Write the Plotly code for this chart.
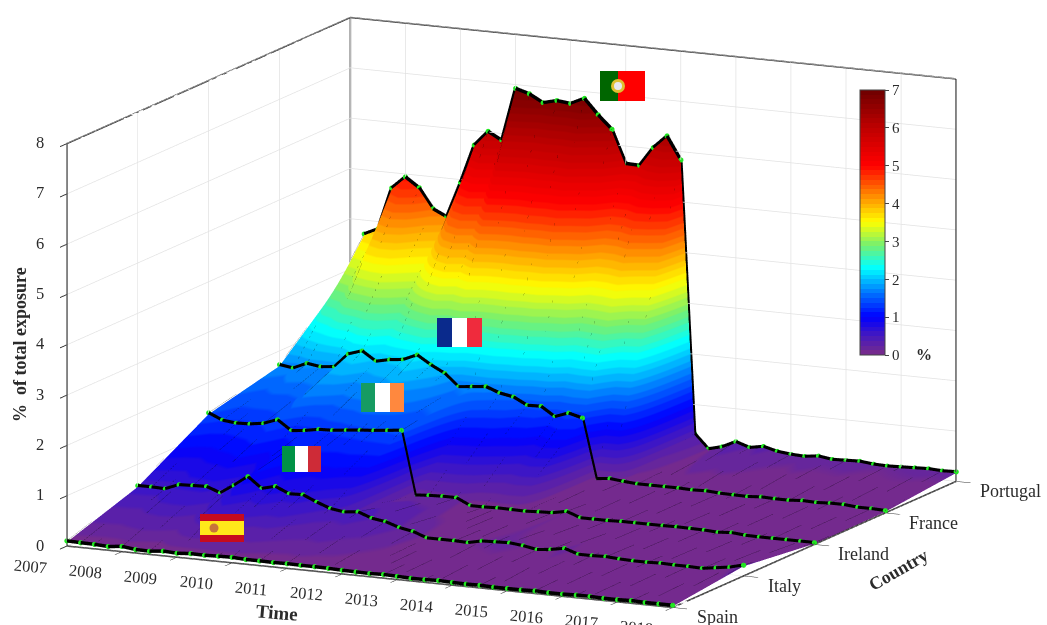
import plotly.graph_objects as go

years = list(range(2007, 2019))
quarters = [2007 + i / 4 for i in range(45)]
countries = ["Spain", "Italy", "Ireland", "France", "Portugal"]
z_ticks = list(range(0, 9))

spain = [.08,.07,.065,.05,.08,.045,.04,.07,.055,.075,.07,.08,.085,.07,.07,.065,.07,.065,.065,.06,.05,.045,.04,.05,.04,.03,.03,.04,.03,.025,.03,.02,.02,.02,.03,.02,.02,.03,.03,.02,.02,.03,.02,.02,.02]
italy = [.55,.55,.54,.65,.66,.67,.57,.75,.95,.74,.81,.69,.70,.58,.48,.44,.47,.37,.33,.24,.19,.09,.09,.09,.08,.14,.15,.16,.13,.08,.11,.16,.07,.07,.08,.06,.05,.05,.06,.05,.05,.04,.08,.12,.19]
ireland = [1.37,1.25,1.22,1.23,1.27,1.37,1.18,1.21,1.26,1.27,1.30,1.33,1.35,1.38,1.41,.15,.17,.18,.18,.05,.05,.06,.055,.05,.065,.075,.13,.03,.03,.03,.04,.04,.04,.04,.045,.04,.035,.02,.04,.015,.01,.01,.01,.01,.01]
france = [1.70,1.66,1.78,1.74,1.77,2.05,2.14,1.96,2.02,2.05,2.17,2.00,1.86,1.62,1.65,1.68,1.58,1.53,1.39,1.40,1.22,1.32,1.25,.07,.10,.07,.05,.05,.05,.05,.04,.05,.03,.025,.02,.04,.03,.03,.05,.04,.055,.055,.03,.03,.02]
portugal = [3.00,3.70,3.83,4.67,4.92,4.73,4.34,4.21,4.92,5.69,5.99,5.84,6.90,6.82,6.67,6.74,6.71,6.84,6.54,6.28,5.63,5.62,6.00,6.26,5.81,.40,.12,.19,.32,.23,.28,.21,.18,.165,.20,.16,.17,.18,.15,.14,.15,.16,.17,.155,.165]
series = [spain, italy, ireland, france, portugal]

W, H = 1047, 625
SERIF = "Liberation Serif"
TXT = "#2b2b2b"
LIFT = 0.025  # keeps lines drawn on the surface from z-fighting with it


def px(x):
    return x / W


def py(y):
    return 1 - y / H


anchors = [(0, (122, 45, 135)), (.5, (70, 25, 190)), (1, (0, 0, 255)), (1.6, (0, 110, 255)),
           (2.3, (0, 255, 255)), (2.9, (120, 240, 110)), (3.5, (255, 255, 0)), (4.2, (255, 140, 0)),
           (5, (255, 0, 0)), (6, (190, 0, 0)), (7, (110, 0, 0))]


def col(v):
    for (a, ca), (b, cb) in zip(anchors, anchors[1:]):
        if a <= v <= b:
            t = (v - a) / (b - a)
            return "rgb(%d,%d,%d)" % tuple(round(p + t * (q - p)) for p, q in zip(ca, cb))
    return "rgb(110,0,0)"


bands = 56
cscale = []
for i in range(bands):
    c = col(7 * (i + .5) / bands)
    cscale += [[i / bands, c], [(i + 1) / bands, c]]

yi = list(range(len(countries)))
fig = go.Figure()
fig.add_trace(go.Surface(
    x=quarters, y=yi, z=series, surfacecolor=series, cmin=0, cmax=7, colorscale=cscale,
    lighting=dict(ambient=1, diffuse=0, specular=0, fresnel=0, roughness=1), hoverinfo="skip",
    colorbar=dict(x=860 / W, xanchor="left", xpad=0, y=py(355), yanchor="bottom", ypad=0,
                  len=265, lenmode="pixels", thickness=25, thicknessmode="pixels",
                  tickvals=list(range(8)), ticks="outside", ticklen=4, tickcolor="#444",
                  tickfont=dict(family=SERIF, size=15, color=TXT), outlinecolor="#444", outlinewidth=1),
))

# dotted mesh across countries
mx, my, mz = [], [], []
for j, q in enumerate(quarters):
    mx += [q] * 5 + [None]
    my += yi + [None]
    mz += [s[j] + LIFT for s in series] + [None]
fig.add_trace(go.Scatter3d(x=mx, y=my, z=mz, mode="lines", hoverinfo="skip", showlegend=False,
                           line=dict(color="rgba(0,0,0,0.35)", width=1, dash="dot")))

# country lines
for i, s in enumerate(series):
    first = 1 if countries[i] == "Portugal" else 0
    fig.add_trace(go.Scatter3d(x=quarters[first:], y=[i] * (len(quarters) - first),
                               z=[v + LIFT for v in s[first:]],
                               mode="lines+markers", showlegend=False, name=countries[i], hoverinfo="skip",
                               line=dict(color="black", width=7), marker=dict(color="#22e822", size=3)))

# box edges
x0, x1, y0, y1, z0, z1 = years[0], years[-1], yi[0], yi[-1], z_ticks[0], z_ticks[-1]
edges = [((x0, y0, z0), (x1, y0, z0)), ((x1, y0, z0), (x1, y1, z0)), ((x0, y0, z0), (x0, y0, z1)),
         ((x0, y0, z1), (x0, y1, z1)), ((x0, y1, z1), (x1, y1, z1)), ((x0, y1, z0), (x0, y1, z1)),
         ((x1, y1, z0), (x1, y1, z1))]
ex, ey, ez = [], [], []
for a, b in edges:
    ex += [a[0], b[0], None]
    ey += [a[1], b[1], None]
    ez += [a[2], b[2], None]
fig.add_trace(go.Scatter3d(x=ex, y=ey, z=ez, mode="lines", hoverinfo="skip", showlegend=False,
                           line=dict(color="#333333", width=3)))

ann3 = []
for yr in years:
    ann3.append(dict(x=yr, y=y0, z=z0, text=str(yr), showarrow=False, xshift=-36, yshift=-20, textangle=5,
                     font=dict(family=SERIF, size=16.5, color=TXT)))
for i, c in enumerate(countries):
    ann3.append(dict(x=x1, y=i, z=z0, text=c, showarrow=False, xanchor="left", xshift=22, yshift=-10,
                     font=dict(family=SERIF, size=18, color=TXT)))
for t in z_ticks:
    ann3.append(dict(x=x0, y=y0, z=t, text=str(t), showarrow=False, xshift=-27, yshift=1,
                     font=dict(family=SERIF, size=16.5, color=TXT)))

ax_common = dict(showbackground=False, gridcolor="#e2e2e2", gridwidth=1.5,
                 showticklabels=False, title=dict(text=""), zeroline=False, showline=False, showspikes=False,
                 ticks="outside", ticklen=16, tickcolor="#333", tickwidth=2)

shapes = []


def rect(x0_, x1_, y0_, y1_, c):
    shapes.append(dict(type="rect", xref="paper", yref="paper", x0=px(x0_), x1=px(x1_), y0=py(y1_), y1=py(y0_),
                       fillcolor=c, line=dict(width=0), layer="above"))


def circ(cx, cy, r, c):
    shapes.append(dict(type="circle", xref="paper", yref="paper", x0=px(cx - r), x1=px(cx + r), y0=py(cy + r),
                       y1=py(cy - r), fillcolor=c, line=dict(width=0), layer="above"))


# Spain
rect(200, 244, 514, 542, "#c60b1e")
rect(200, 244, 521, 535, "#ffe81a")
circ(214, 528, 4.5, "#c8753a")
# Italy
rect(282, 295, 446, 472, "#009246")
rect(295, 308, 446, 472, "#ffffff")
rect(308, 321, 446, 472, "#ce2b37")
# Ireland
rect(361, 375, 383, 412, "#169b62")
rect(375, 390, 383, 412, "#ffffff")
rect(390, 404, 383, 412, "#ff883e")
# France
rect(437, 452, 318, 347, "#0a2a8c")
rect(452, 467, 318, 347, "#ffffff")
rect(467, 482, 318, 347, "#ef2b3d")
# Portugal
rect(600, 618, 71, 101, "#006600")
rect(618, 645, 71, 101, "#ff0000")
circ(618, 86, 7, "#e0c030")
circ(618, 86, 4, "#e8e8f0")


def label(xp, yp, text, size, angle=0):
    return dict(x=px(xp), y=py(yp), xref="paper", yref="paper", xanchor="center", yanchor="middle", text=text,
                textangle=angle, showarrow=False, font=dict(family=SERIF, size=size, color=TXT))


fig.update_layout(
    width=W, height=H, margin=dict(l=0, r=0, t=0, b=0), paper_bgcolor="white", showlegend=False,
    shapes=shapes,
    scene=dict(
        domain=dict(x=[0, 1023 / W], y=[4 / H, 621 / H]),
        aspectmode="manual", aspectratio=dict(x=2.176, y=2.133, z=1.335),
        camera=dict(projection=dict(type="orthographic"), eye=dict(x=1.356, y=-2.84, z=.684),
                    center=dict(x=0, y=0, z=0), up=dict(x=0, y=0, z=1)),
        xaxis=dict(range=[x0, x1], tickvals=years, **ax_common),
        yaxis=dict(range=[y0, y1], tickvals=yi, ticktext=countries, **ax_common),
        zaxis=dict(range=[z0, z1], tickvals=z_ticks, **ax_common),
        annotations=ann3,
    ),
    annotations=[
        label(20, 345, "<b>%  of total exposure</b>", 18, -90),
        label(277, 612, "<b>Time</b>", 19, 5),
        label(898, 570, "<b>Country</b>", 18, -30),
        label(924, 354, "<b>%</b>", 16),
    ],
)

fig.write_html("out.html", config=dict(displayModeBar=False),
               post_script="document.body.style.margin='0';")
